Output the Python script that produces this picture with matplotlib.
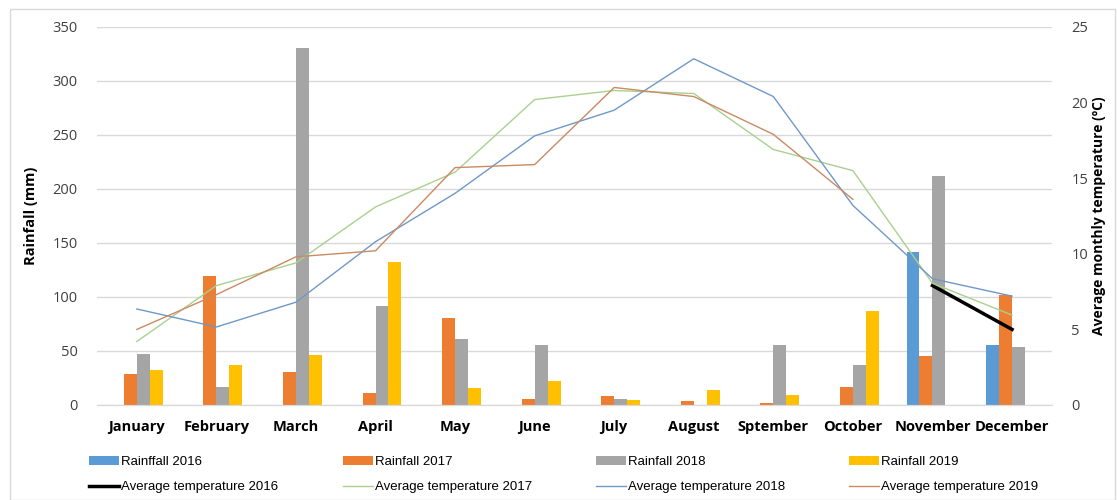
import numpy as np
import matplotlib.pyplot as plt
from matplotlib.patches import Rectangle

plt.rcParams['font.family'] = ['Open Sans', 'DejaVu Sans']

months = ["January", "February", "March", "April", "May", "June", "July",
          "August", "Sptember", "October", "November", "December"]

rain_2016 = [0, 0, 0, 0, 0, 0, 0, 0, 0, 0, 142, 56]
rain_2017 = [29, 119, 31, 11, 81, 6, 8, 4, 1.5, 17, 45, 102]
rain_2018 = [47, 17, 331, 92, 61, 56, 6, 0, 56, 37, 212, 54]
rain_2019 = [32, 37, 46, 132, 16, 22, 5, 14, 9, 87, 0, 0]

nan = np.nan
temp_2016 = [nan] * 10 + [7.9, 5.0]
temp_2017 = [4.2, 7.9, 9.4, 13.1, 15.4, 20.2, 20.8, 20.6, 16.9, 15.5, 8.05, 5.95]
temp_2018 = [6.35, 5.16, 6.8, 10.8, 14.0, 17.8, 19.5, 22.9, 20.4, 13.2, 8.35, 7.2]
temp_2019 = [5.0, 7.3, 9.8, 10.2, 15.7, 15.9, 21.0, 20.4, 17.9, 13.6, nan, nan]

fig = plt.figure(figsize=(11.18, 5), dpi=100)
fig.patches.append(Rectangle((0.009, 0.0), 0.988, 0.982, transform=fig.transFigure,
                             fill=False, edgecolor='#d9d9d9', linewidth=1))
ax1 = fig.add_axes([0.0868, 0.19, 0.854, 0.756])
ax2 = ax1.twinx()

x = np.arange(len(months))
w = 0.163
bar_colors = ['#5B9BD5', '#ED7D31', '#A5A5A5', '#FFC000']
bars = []
for i, (vals, c, lab) in enumerate(zip([rain_2016, rain_2017, rain_2018, rain_2019], bar_colors,
                                       ["Rainffall 2016", "Rainfall 2017", "Rainfall 2018", "Rainfall 2019"])):
    b = ax1.bar(x + (i - 1.5) * w, vals, w, color=c, label=lab, zorder=2)
    bars.append(b)

line_colors = ['black', '#A9D18E', '#6F98C8', '#C98A64']
line_widths = [2.5, 1.0, 1.0, 1.0]
lines = []
for vals, c, lw, lab in zip([temp_2016, temp_2017, temp_2018, temp_2019], line_colors, line_widths,
                            ["Average temperature 2016", "Average temperature 2017",
                             "Average temperature 2018", "Average temperature 2019"]):
    l, = ax2.plot(x, vals, color=c, lw=lw, label=lab, zorder=3)
    lines.append(l)

ax1.set_xlim(-0.5, 11.5)
ax1.set_ylim(0, 350)
ax1.set_yticks(range(0, 351, 50))
ax2.set_ylim(0, 25)
ax2.set_yticks(range(0, 26, 5))
ax1.set_xticks(x)
ax1.set_xticklabels(months, fontweight='bold', fontsize=9.5, va='baseline')
ax1.yaxis.grid(True, color='#d9d9d9', lw=1, zorder=0)
ax1.set_axisbelow(True)
for ax in (ax1, ax2):
    for s in ['top', 'left', 'right']:
        ax.spines[s].set_visible(False)
    ax.spines['bottom'].set_color('#d9d9d9')
    ax.tick_params(length=0, labelsize=10.5, colors='#404040')
ax1.tick_params(axis='x', colors='black', pad=19)
ax1.tick_params(axis='y', pad=14)
ax2.tick_params(axis='y', pad=14)

ax1.set_ylabel("Rainfall (mm)", fontweight='bold', fontsize=10.5, labelpad=10)
ax2.set_ylabel("Average monthly temperature (ºC)", fontweight='bold', fontsize=10, labelpad=3)

# one small legend per column, placed where the reference has them
col_x = [89, 343, 596, 849]
for b, l, cx in zip(bars, lines, col_x):
    leg = fig.legend(handles=[b, l], labels=[b.get_label(), l.get_label()],
                     loc='center left', bbox_to_anchor=(cx / 1118, 0.051),
                     frameon=False, borderpad=0, borderaxespad=0,
                     prop={'family': ['Liberation Sans', 'DejaVu Sans'], 'size': 9.5},
                     handlelength=2.3, handletextpad=0.1, labelspacing=1.0)

fig.savefig("out.png", dpi=100)
